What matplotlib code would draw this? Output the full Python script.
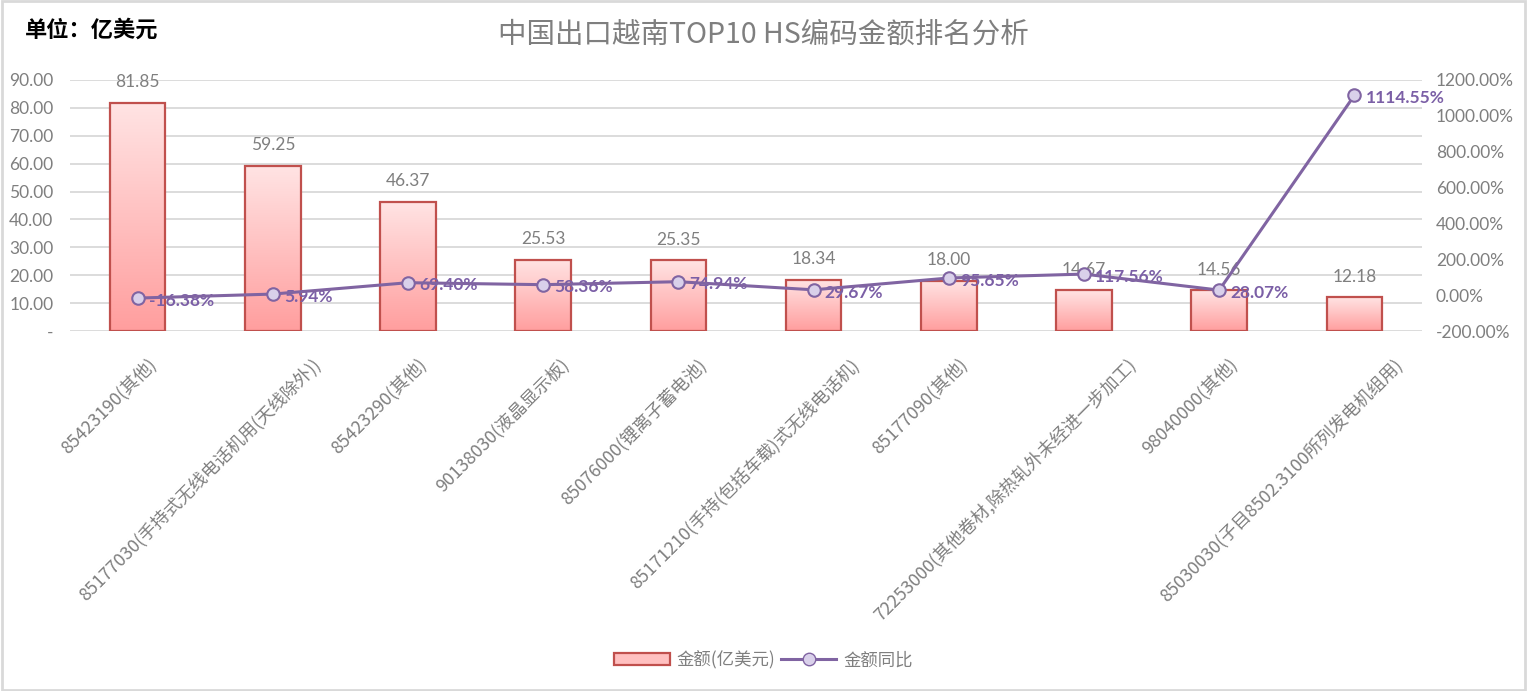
import numpy as np
import matplotlib.pyplot as plt
from matplotlib.colors import LinearSegmentedColormap
from matplotlib.patches import Patch, Rectangle
from matplotlib.lines import Line2D
import matplotlib.transforms as mtransforms

plt.rcParams['font.family'] = ['Lato', 'Noto Sans CJK SC', 'DejaVu Sans']
cjk = ['Noto Sans CJK SC', 'DejaVu Sans']

categories = ["85423190(其他)", "85177030(手持式无线电话机用(天线除外))", "85423290(其他)",
              "90138030(液晶显示板)", "85076000(锂离子蓄电池)", "85171210(手持(包括车载)式无线电话机)",
              "85177090(其他)", "72253000(其他卷材,除热轧外未经进一步加工)", "98040000(其他)",
              "85030030(子目8502.3100所列发电机组用)"]
amount = [81.85, 59.25, 46.37, 25.53, 25.35, 18.34, 18.00, 14.67, 14.56, 12.18]
growth = [-16.38, 5.94, 69.40, 58.36, 74.94, 29.67, 95.65, 117.56, 28.07, 1114.55]

gray = '#7f7f7f'
purple = '#8064a2'

fig = plt.figure(figsize=(15.27, 6.91), dpi=100)
ax = fig.add_axes([70/1527, 1-331/691, 1352/1527, 251/691])
ax2 = ax.twinx()

x = np.arange(len(categories))
cmap = LinearSegmentedColormap.from_list('pk', ['#ff9e9e', '#ffe4e4'])
grad = np.linspace(0, 1, 256).reshape(-1, 1)
bars = ax.bar(x, amount, width=0.41, color='none', edgecolor='#c0504d', linewidth=1.6, zorder=3)
for b in bars:
    x0, w, h = b.get_x(), b.get_width(), b.get_height()
    ax.imshow(grad, extent=(x0, x0 + w, 0, h), origin='lower', cmap=cmap, aspect='auto', zorder=2)
for xi, v in zip(x, amount):
    ax.annotate(f"{v:.2f}", (xi, v), xytext=(0, 9), textcoords='offset points',
                ha='center', va='bottom', color=gray, fontsize=12.5)

ax.set_xlim(-0.5, len(categories) - 0.5)
ax.set_ylim(0, 90)
ax.set_yticks(np.arange(0, 91, 10))
ax.set_yticklabels(['-'] + [f"{t:.2f}" for t in np.arange(10, 91, 10)])
ax.grid(axis='y', color='#d9d9d9', linewidth=1.3, zorder=0)
ax.set_axisbelow(True)
ax.set_xticks(x)
ax.set_xticklabels([])
ax.tick_params(axis='both', length=0, labelcolor=gray, labelsize=12.5)
ax.tick_params(axis='y', pad=12)

# category labels, rotated 45 degrees under each bar
base = mtransforms.blended_transform_factory(ax.transData, ax.transAxes)
cat_texts = []
for xi, c in zip(x, categories):
    t = ax.text(xi, 0, c, rotation=45, ha='right', va='top', rotation_mode='anchor',
                family=cjk, fontsize=12.8, color=gray, transform=base)
    cat_texts.append(t)
fig.canvas.draw()
r = fig.canvas.get_renderer()
widths = [t.get_window_extent(r).width for t in cat_texts]
for t, w in zip(cat_texts, widths):
    dx = 9 + 0.2 * (w - widths[0])
    t.set_transform(base + mtransforms.ScaledTranslation(dx/100, -24/100, fig.dpi_scale_trans))

ax2.plot(x, growth, color=purple, linewidth=2.2, marker='o', markersize=9,
         markerfacecolor='#d9d0ea', markeredgecolor=purple, markeredgewidth=1.5, zorder=5)
for xi, g in zip(x, growth):
    ax2.annotate(f"{g:.2f}%", (xi, g), xytext=(8, -2), textcoords='offset points',
                 ha='left', va='center', color='#7b5fa6', fontsize=12.5, fontweight='bold')
ax2.set_ylim(-200, 1200)
ax2.set_yticks(np.arange(-200, 1201, 200))
ax2.set_yticklabels([f"{t:.2f}%" for t in np.arange(-200, 1201, 200)])
ax2.tick_params(axis='y', length=0, labelcolor=gray, labelsize=12.5, pad=10)

for a in (ax, ax2):
    for s in a.spines.values():
        s.set_visible(False)

fig.text(763/1527, 1-35/691, "中国出口越南TOP10 HS编码金额排名分析", ha='center', va='center',
         fontsize=20.5, color=gray, family=cjk, fontweight='light')
fig.text(25/1527, 1-30/691, "单位：亿美元", ha='left', va='center', fontsize=16,
         fontweight='bold', color='black', family=cjk)

handles = [Patch(facecolor='#ffc0c0', edgecolor='#c0504d', linewidth=1.6),
           Line2D([0], [0], color=purple, linewidth=2.2, marker='o', markersize=9,
                  markerfacecolor='#d9d0ea', markeredgecolor=purple)]
fig.legend(handles, ["金额(亿美元)", "金额同比"], loc='center', bbox_to_anchor=(0.5, 1-660/691),
           ncol=2, frameon=False, labelcolor=gray, handlelength=3.2,
           columnspacing=0.3, handletextpad=0.4,
           prop={'family': cjk, 'size': 12.5})

fig.add_artist(Rectangle((0.001, 0.001), 0.998, 0.997, transform=fig.transFigure,
                         fill=False, edgecolor='#d9d9d9', linewidth=2))

fig.savefig('out.png', dpi=100)
